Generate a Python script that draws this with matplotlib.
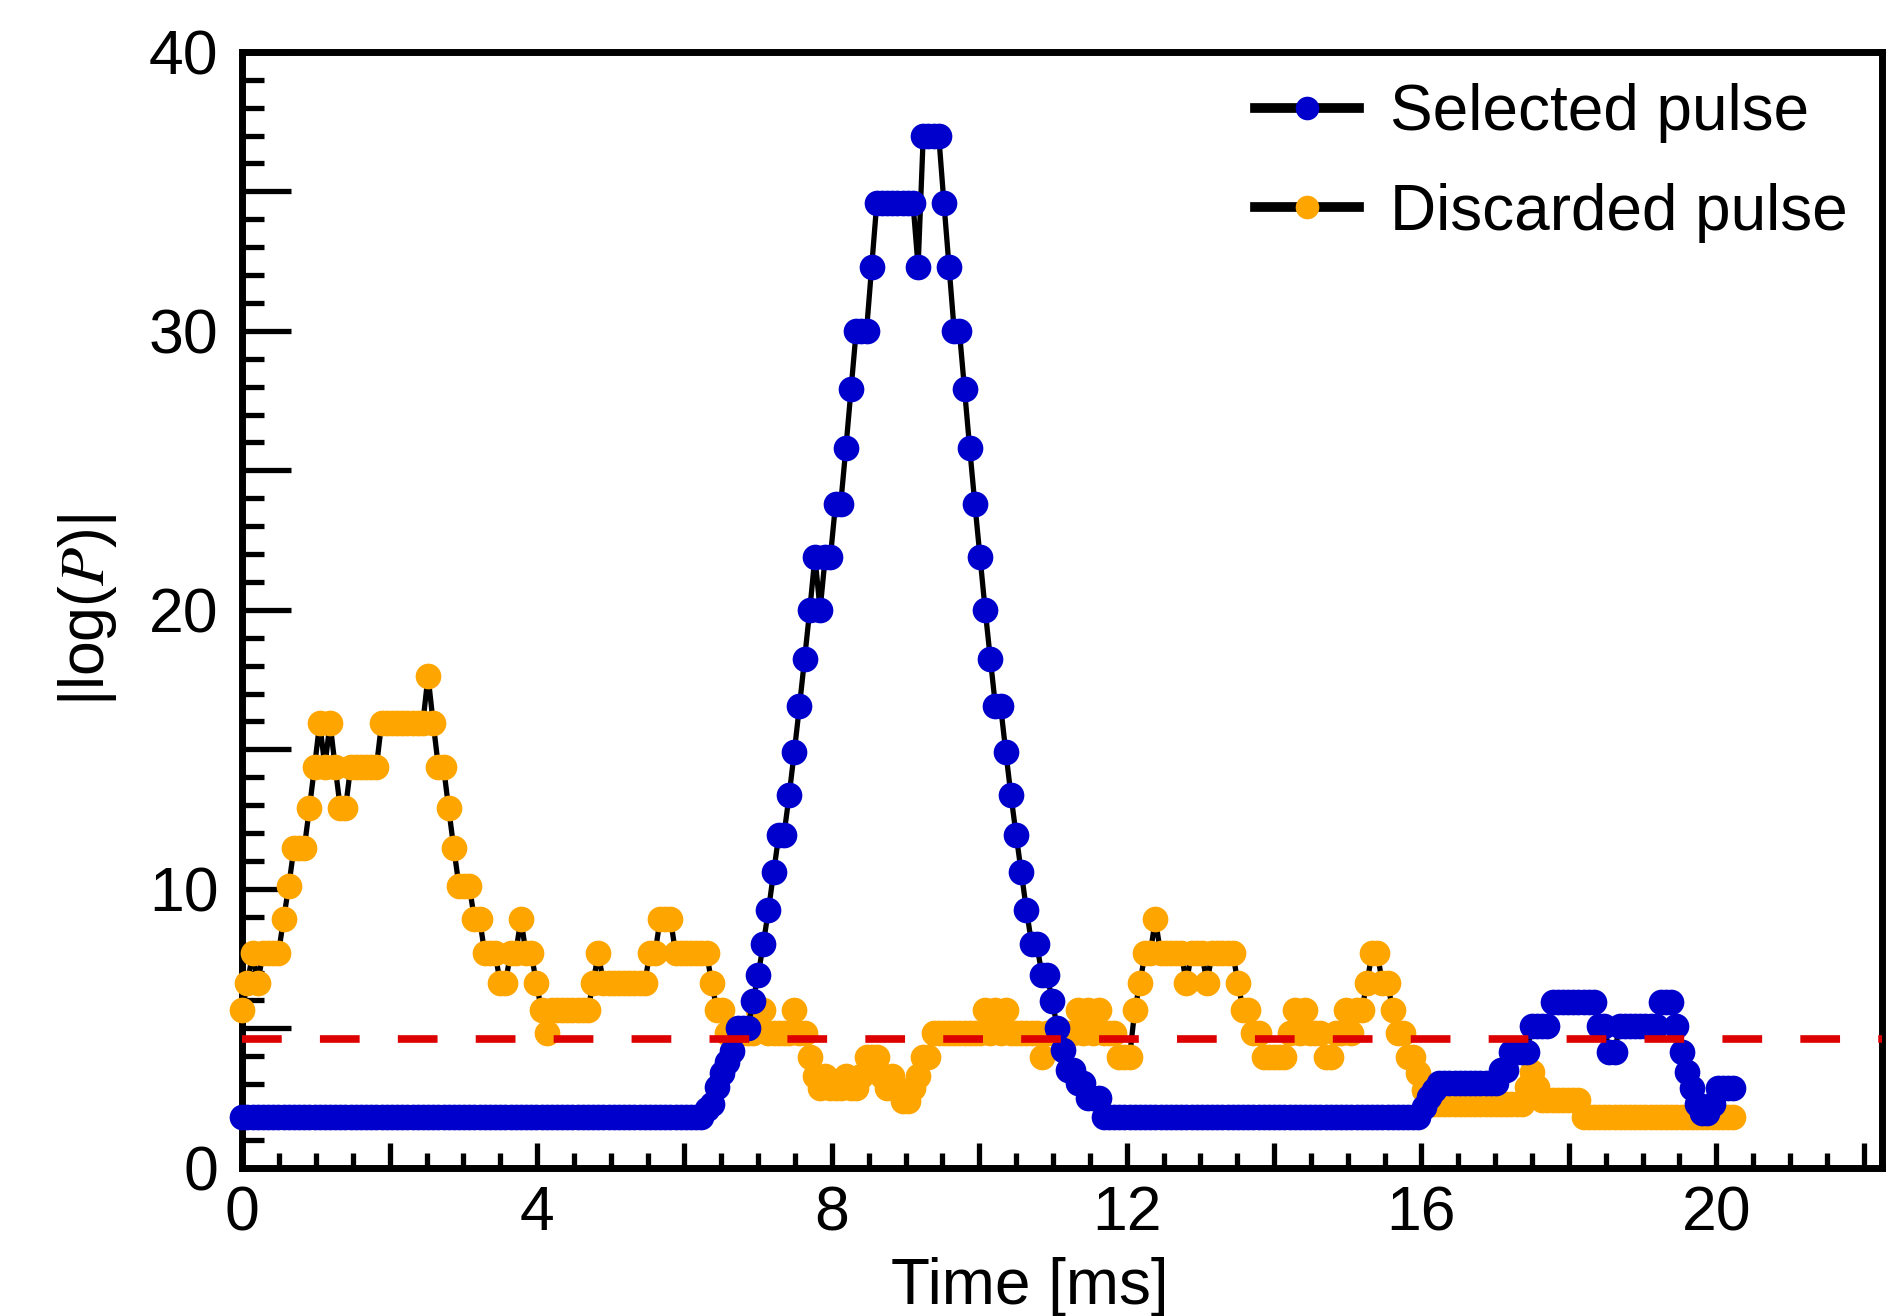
import numpy as np
import matplotlib.pyplot as plt
from matplotlib.lines import Line2D
from matplotlib.ticker import MultipleLocator, FuncFormatter

plt.rcParams['font.family'] = ['Liberation Sans', 'DejaVu Sans']
plt.rcParams['mathtext.fontset'] = 'stix'

# sampling step of the decoder output [ms]
dt = 0.07
# |log(P)| threshold, ln(100)
threshold = 4.605

# selected pulse, run-length coded: level and number of consecutive samples
sel_level = [1.83, 2.1, 2.3, 2.9, 3.4, 3.8, 4.2, 5.0,
             5.99, 6.91, 8.04, 9.25, 10.59, 11.94,
             13.35, 14.91, 16.54, 18.25, 20.0, 21.9, 20.0,
             21.9, 23.8, 25.8, 27.9, 30.0, 32.3,
             34.6, 32.3, 37.0, 34.6, 32.3, 30.0, 27.9, 25.8, 23.8, 21.9, 20.0,
             18.25, 16.54, 14.91, 13.35, 11.94, 10.59, 9.25, 8.04, 6.91,
             5.99, 5.0, 4.22, 3.5, 3.03, 2.49,
             1.83, 2.19, 2.55, 2.79, 3.03, 3.5, 4.16, 5.08, 5.95, 5.08, 4.16,
             5.08, 5.95, 5.08, 4.16, 3.44, 2.85, 2.3, 1.95, 2.3, 2.85]
sel_count = [90, 1, 1, 1, 1, 1, 1, 3,
             1, 1, 1, 1, 1, 2,
             1, 1, 1, 1, 1, 1, 1,
             2, 2, 1, 1, 3, 1,
             8, 1, 4, 1, 1, 2, 1, 1, 1, 1, 1,
             1, 2, 1, 1, 1, 1, 1, 2, 2,
             1, 1, 1, 2, 2, 3,
             62, 1, 1, 1, 12, 2, 4, 4, 9, 2, 2,
             8, 3, 1, 1, 1, 1, 1, 2, 1, 4]

# discarded pulse, same coding
dis_level = [5.65, 6.63, 7.69, 6.63, 7.69, 8.91, 10.1, 11.45, 12.88, 14.38,
             15.95, 14.38, 15.95, 14.38, 12.88, 14.38, 15.95, 17.63, 15.95, 14.38,
             12.88, 11.45, 10.1, 8.91, 7.69, 6.63, 7.69, 8.91, 7.69, 6.63,
             5.65, 4.82, 5.65, 6.63, 7.69, 6.63, 7.69, 8.91, 7.69, 6.63,
             5.65, 4.82, 5.65, 4.82, 5.65, 4.82, 3.98, 3.3, 2.87, 3.3,
             2.87, 3.3, 2.87, 3.3, 3.98, 3.3, 2.87, 3.3, 2.87, 2.4,
             2.87, 3.3, 3.98, 4.82, 5.65, 4.82, 5.65, 4.82, 5.65, 4.82,
             3.98, 4.82, 5.65, 4.82, 5.65, 4.82, 5.65, 4.82, 3.98, 5.65,
             6.63, 7.69, 8.91, 7.69, 6.63, 7.69, 6.63, 7.69, 6.63, 5.65,
             4.82, 3.98, 4.82, 5.65, 4.82, 5.65, 4.82, 3.98, 4.82, 5.65,
             4.82, 5.65, 6.63, 7.69, 6.63, 5.65, 4.82, 3.98, 3.39, 2.8,
             2.3, 2.9, 3.44, 2.9, 2.43, 1.83]
dis_count = [1, 1, 1, 1, 4, 1, 1, 3, 1, 1,
             1, 1, 1, 1, 2, 6, 9, 1, 1, 2,
             1, 1, 3, 2, 3, 2, 2, 1, 2, 1,
             1, 1, 8, 1, 1, 9, 2, 3, 7, 1,
             2, 6, 2, 5, 1, 2, 1, 1, 1, 1,
             3, 1, 2, 1, 3, 1, 1, 1, 1, 2,
             1, 1, 2, 10, 1, 1, 1, 1, 1, 6,
             1, 6, 1, 1, 1, 1, 1, 3, 3, 1,
             1, 2, 1, 5, 1, 3, 1, 5, 1, 2,
             2, 5, 1, 1, 1, 1, 3, 2, 2, 1,
             1, 2, 1, 2, 2, 1, 2, 2, 1, 2,
             18, 1, 1, 1, 8, 30]

sel = np.repeat(sel_level, sel_count)
dis = np.repeat(dis_level, dis_count)
t_sel = np.arange(sel.size) * dt
t_dis = np.arange(dis.size) * dt

c_sel = '#0000cd'
c_dis = '#ffa500'

fig = plt.figure(figsize=(19.02, 13.16), dpi=100)
ax = fig.add_axes([0.1274, 0.1126, 0.8621, 0.848])

ax.plot(t_dis, dis, color='k', lw=3.8, marker='o', ms=18.5, mfc=c_dis, mec=c_dis,
        mew=0, clip_on=False, zorder=3)
ax.plot(t_sel, sel, color='k', lw=3.8, marker='o', ms=18.5, mfc=c_sel, mec=c_sel,
        mew=0, clip_on=False, zorder=4)
ax.axhline(threshold, color='#dd0000', lw=5.5, ls=(0, (5.2, 5.0)), zorder=5)

ax.set_xlim(0, 22.25)
ax.set_ylim(0, 40)
ax.xaxis.set_major_locator(MultipleLocator(2))
ax.xaxis.set_minor_locator(MultipleLocator(0.5))
ax.yaxis.set_major_locator(MultipleLocator(5))
ax.yaxis.set_minor_locator(MultipleLocator(1))
ax.xaxis.set_major_formatter(FuncFormatter(lambda v, p: f'{v:.0f}' if round(v) % 4 == 0 else ''))
ax.yaxis.set_major_formatter(FuncFormatter(lambda v, p: f'{v:.0f}' if round(v) % 10 == 0 else ''))

ax.tick_params(which='both', direction='in', top=False, right=False, labelsize=45, width=3.8)
ax.tick_params(axis='x', which='major', length=18, pad=12)
ax.tick_params(axis='x', which='minor', length=11)
ax.tick_params(axis='y', which='major', length=35, pad=17)
ax.tick_params(axis='y', which='minor', length=16)
for s in ax.spines.values():
    s.set_linewidth(5)

ax.set_xlabel('Time [ms]', fontsize=46)
ax.xaxis.set_label_coords(0.48, -0.08)
ax.set_ylabel('|log($P$)|', fontsize=45)
ax.yaxis.set_label_coords(-0.075, 0.5)

handles = [Line2D([], [], color='k', lw=7, marker='o', ms=17, mfc=c_sel, mec=c_sel, mew=0),
           Line2D([], [], color='k', lw=7, marker='o', ms=17, mfc=c_dis, mec=c_dis, mew=0)]
fig.legend(handles, ['Selected pulse', 'Discarded pulse'], loc='upper left',
           bbox_to_anchor=(1255 / 1902, 1 - 83 / 1316), frameon=False, fontsize=46,
           borderpad=0, borderaxespad=0, handlelength=1.62, handletextpad=0.5,
           labelspacing=0.62)

fig.savefig('out.png', dpi=100)
